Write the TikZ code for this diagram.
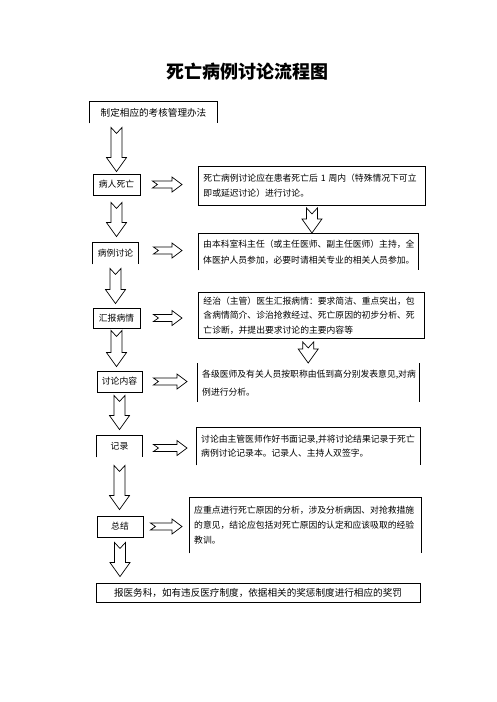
\documentclass[tikz,border=0pt]{standalone}
\usepackage{fontspec}
\setmainfont{Noto Sans CJK SC}
\usetikzlibrary{calc}

\begin{document}
\begin{tikzpicture}[x=1pt,y=-1pt,
    box/.style={draw,line width=0.9pt,inner sep=0pt,font=\fontsize{8.8}{10}\selectfont},
    openbox/.style={box,draw=none},
    desc/.style={anchor=north west,align=left,inner xsep=5pt,inner ysep=0pt,font=\fontsize{8.8}{15}\selectfont},
    edge/.style={line width=0.9pt},
    blk/.style={draw,line width=0.7pt,line join=miter},
    downblk/.style={blk,to path={let \p1=(\tikztostart), \p2=(\tikztotarget) in
        (\x1-5.5pt,\y1) -- (\x1,\y1-6pt) -- (\x1+5.5pt,\y1) -- (\x1+5.5pt,\y2+14pt)
        -- (\x1+10pt,\y2+14pt) -- (\x1,\y2) -- (\x1-10pt,\y2+14pt) -- (\x1-5.5pt,\y2+14pt) -- cycle}},
    rightblk/.style={blk,to path={let \p1=(\tikztostart), \p2=(\tikztotarget) in
        (\x1,\y1+3.5pt) -- (\x1+5pt,\y1) -- (\x1,\y1-3.5pt) -- (\x2-10pt,\y1-3.5pt)
        -- (\x2-10pt,\y1-7.5pt) -- (\x2,\y1) -- (\x2-10pt,\y1+7.5pt) -- (\x2-10pt,\y1+3.5pt) -- cycle}}]

    \useasboundingbox (0,0) rectangle (496,702);

    \node[font=\fontsize{18}{18}\selectfont\bfseries] (title) at (247,72) {死亡病例讨论流程图};

    % left column
    \node[openbox, minimum width=127pt, minimum height=21pt, font=\fontsize{9.6}{10}\selectfont] (plan) at (153.5,112.5) {制定相应的考核管理办法};
    \node[box, minimum width=47pt, minimum height=21pt] (sick) at (116.5,184.5) {病人死亡};
    \node[openbox, minimum width=45pt, minimum height=21pt] (case) at (115.5,253.5) {病例讨论};
    \node[box, minimum width=47pt, minimum height=20pt] (report) at (116.5,318) {汇报病情};
    \node[box, minimum width=45pt, minimum height=21pt] (discuss) at (119.5,381.5) {讨论内容};
    \node[openbox, minimum width=45pt, minimum height=21pt] (record) at (119.5,446.5) {记录};
    \node[box, minimum width=46pt, minimum height=21pt] (summary) at (120,526.5) {总结};
    \node[box, minimum width=324pt, minimum height=19pt, font=\fontsize{9.6}{10}\selectfont] (final) at (258,592.5) {报医务科，如有违反医疗制度，依据相关的奖惩制度进行相应的奖罚};

    % right column
    \node[desc, draw, line width=0.9pt, text width=217pt, minimum height=39pt] (d1) at (198,166)
        {死亡病例讨论应在患者死亡后 1 周内（特殊情况下可立\\即或延迟讨论）进行讨论。};
    \node[desc, text width=210pt, minimum height=37pt, font=\fontsize{8.8}{16}\selectfont] (d2) at (198,233)
        {由本科室科主任（或主任医师、副主任医师）主持，全\\体医护人员参加，必要时请相关专业的相关人员参加。};
    \node[desc, draw, line width=0.9pt, text width=216pt, minimum height=46pt, font=\fontsize{8.8}{14.5}\selectfont] (d3) at (198,292)
        {经治（主管）医生汇报病情：要求简洁、重点突出，包\\含病情简介、诊治抢救经过、死亡原因的初步分析、死\\亡诊断，并提出要求讨论的主要内容等};
    \node[desc, text width=212pt, minimum height=39pt, font=\fontsize{8.8}{18}\selectfont] (d4) at (197,363)
        {各级医师及有关人员按职称由低到高分别发表意见,对病\\例进行分析。};
    \node[desc, text width=214pt, minimum height=38pt, font=\fontsize{8.8}{14}\selectfont] (d5) at (196,427)
        {讨论由主管医师作好书面记录,并将讨论结果记录于死亡\\病例讨论记录本。记录人、主持人双签字。};
    \node[desc, text width=222pt, minimum height=56pt] (d6) at (189,497)
        {应重点进行死亡原因的分析，涉及分析病因、对抢救措施\\的意见，结论应包括对死亡原因的认定和应该吸取的经验\\教训。};

    % open sides
    \draw[edge] (plan.south west) -- (plan.north west) -- (plan.north east) -- (plan.south east);
    \draw[edge] (case.south west) -- (case.north west) -- (case.north east) -- (case.south east);
    \draw[edge] (record.south west) -- (record.north west) -- (record.north east) -- (record.south east);
    \draw[edge] (d2.south west) -- (d2.north west) -- (d2.north east) -- (d2.south east);
    \draw[edge] (d4.north west) -- (d4.south west) (d4.north east) -- (d4.south east);
    \draw[edge] (d5.south west) -- (d5.north west) -- (d5.north east) -- (d5.south east);
    \draw[edge] (d6.south west) -- (d6.north west) -- (d6.north east) -- (d6.south east);

    % down arrows
    \draw[downblk] ([yshift=-4pt]plan.south -| sick.south) to ([yshift=2pt]sick.north);
    \draw[downblk] ([yshift=-7pt]sick.south) to ([yshift=6pt]case.north);
    \draw[downblk] ([yshift=-4pt]case.south) to ([yshift=4pt]report.north);
    \draw[downblk] ([yshift=-2pt]report.south) to ([yshift=4pt]discuss.north);
    \draw[downblk] ([yshift=-3pt]discuss.south) to ([yshift=6pt]record.north);
    \draw[downblk] ([yshift=-8pt]record.south) to ([yshift=6pt]summary.north);
    \draw[downblk] ([yshift=-5pt]summary.south) to ([yshift=6pt]summary.south |- final.north);
    \draw[downblk] ([yshift=-2pt]d1.south) to (d2.north);
    \draw[downblk] ([yshift=-3pt]d3.south -| d4.north) to (d4.north);

    % right arrows
    \draw[rightblk] ([xshift=12pt]sick.east) to ([xshift=-16pt]sick.east -| d1.west);
    \draw[rightblk] ([xshift=15pt,yshift=3pt]case.east) to ([xshift=-16pt]case.east -| d2.west);
    \draw[rightblk] ([xshift=13pt]report.east) to ([xshift=-16pt]report.east -| d3.west);
    \draw[rightblk] ([xshift=11pt]discuss.east) to ([xshift=-10pt]discuss.east -| d4.west);
    \draw[rightblk] ([xshift=11pt,yshift=-1.5pt]record.east) to ([xshift=-9pt]record.east -| d5.west);
    \draw[rightblk] ([xshift=7pt]summary.east) to ([xshift=-7pt]summary.east -| d6.west);
\end{tikzpicture}
\end{document}
